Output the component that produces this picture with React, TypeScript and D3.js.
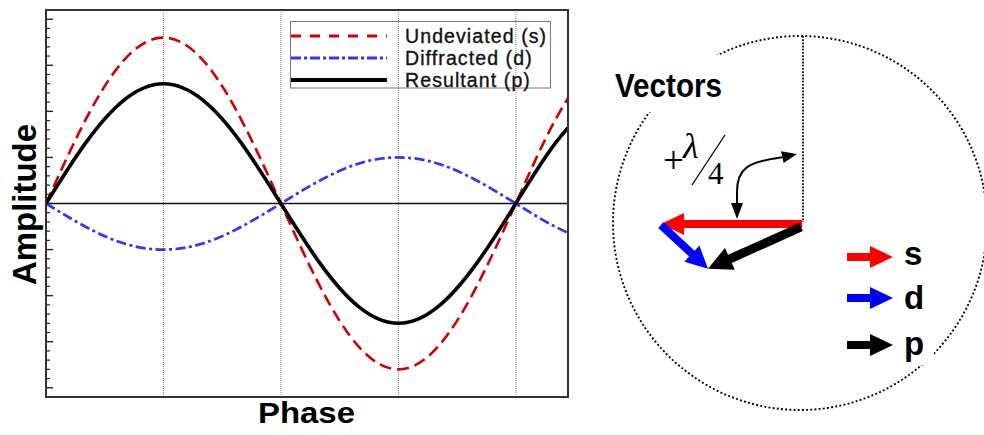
import React from 'react';
import * as d3 from 'd3';

// Sampled waveforms (phase in degrees, amplitude in axis units)
const phaseDeg = [0, 30, 60, 90, 120, 150, 180, 210, 240, 270, 300, 330, 360, 390, 420];
const undeviated = [0, 1.8, 3.12, 3.6, 3.12, 1.8, 0, -1.8, -3.12, -3.6, -3.12, -1.8, 0, 1.8, 3.12];
const diffracted = [0, -0.5, -0.87, -1, -0.87, -0.5, 0, 0.5, 0.87, 1, 0.87, 0.5, 0, -0.5, -0.87];
const resultant = [0, 1.3, 2.25, 2.6, 2.25, 1.3, 0, -1.3, -2.25, -2.6, -2.25, -1.3, 0, 1.3, 2.25];

const gridPhases = [90, 180, 270, 360];
const legendLabels = ['Undeviated (s)', 'Diffracted (d)', 'Resultant (p)'];

// Phasor components (x right, y up) for s, d and the resultant p
const vectorNames = ['s', 'd', 'p'];
const vectorX = [-3, 1, -2];
const vectorY = [0, -0.95, -0.95];

const SANS = '"Liberation Sans", Arial, Helvetica, sans-serif';
const SERIF = '"Liberation Serif", "Times New Roman", serif';

const RED = '#d00000';
const BLUE = '#3333ff';

const plot = { left: 46, right: 568, top: 10, bottom: 397 };

function arrowPoints(x1: number, y1: number, x2: number, y2: number, w: number, hl: number, hw: number) {
  const dx = x2 - x1, dy = y2 - y1;
  const len = Math.hypot(dx, dy);
  const ux = dx / len, uy = dy / len;
  const nx = -uy, ny = ux;
  const bx = x2 - ux * hl, by = y2 - uy * hl;
  const pts = [
    [x1 + nx * w / 2, y1 + ny * w / 2],
    [bx + nx * w / 2, by + ny * w / 2],
    [bx + nx * hw, by + ny * hw],
    [x2, y2],
    [bx - nx * hw, by - ny * hw],
    [bx - nx * w / 2, by - ny * w / 2],
    [x1 - nx * w / 2, y1 - ny * w / 2],
  ];
  return pts.map(p => p.join(',')).join(' ');
}

export default function App() {
  const x = d3.scaleLinear().domain([0, 400]).range([plot.left, plot.right]);
  const y = d3.scaleLinear().domain([-4.2, 4.2]).range([plot.bottom, plot.top]);

  const makeLine = (vals: number[]) =>
    d3.line<number>()
      .x((_, i) => x(phaseDeg[i]))
      .y(d => y(d))
      .curve(d3.curveNatural)(vals) as string;

  const majorTicks = d3.range(-4, 4.001, 1);
  const minorTicks = d3.range(-4.2, 4.201, 0.2).filter(v => Math.abs(v - Math.round(v)) > 0.01 && Math.abs(Math.abs(v) - 4.2) > 0.01);

  // vector diagram scale
  const origin = { x: 802, y: 224 };
  const vs = d3.scaleLinear().domain([0, 1]).range([0, 47]);
  const sTip = { x: origin.x + vs(vectorX[0]), y: origin.y - vs(vectorY[0]) };
  const dTip = { x: sTip.x + vs(vectorX[1]), y: sTip.y - vs(vectorY[1]) };
  const pTip = { x: origin.x + vs(vectorX[2]), y: origin.y - vs(vectorY[2]) };
  const vecColors = ['#ff0000', '#0000ff', '#000000'];

  const legendStyles = [
    { stroke: RED, dash: '10 9', width: 3 },
    { stroke: BLUE, dash: '10 3 3 3', width: 3 },
    { stroke: '#000', dash: undefined, width: 4 },
  ];

  // curved arrow head at upper right
  const hTip = { x: 797, y: 154 };
  const hDir = { x: 0.978, y: -0.21 };
  const hBase = { x: hTip.x - hDir.x * 15, y: hTip.y - hDir.y * 15 };
  const hPerp = { x: -hDir.y, y: hDir.x };

  return (
    <svg width={984} height={435} style={{ position: 'absolute', left: 0, top: 0, background: '#fff' }}>
      <defs>
        <clipPath id="plotClip">
          <rect x={plot.left} y={plot.top} width={plot.right - plot.left} height={plot.bottom - plot.top} />
        </clipPath>
      </defs>
      <rect x={0} y={0} width={984} height={435} fill="#fff" />

      {/* vertical grid */}
      {gridPhases.map(p => (
        <line key={p} x1={x(p)} x2={x(p)} y1={plot.top} y2={plot.bottom}
          stroke="#8a8a8a" strokeWidth={1} strokeDasharray="1 1" />
      ))}
      {/* zero line */}
      <line x1={plot.left} x2={plot.right} y1={y(0)} y2={y(0)} stroke="#111" strokeWidth={1.5} />

      {/* y ticks */}
      {majorTicks.map(t => (
        <line key={'M' + t} x1={plot.left} x2={plot.left + 7} y1={y(t)} y2={y(t)} stroke="#222" strokeWidth={1.4} />
      ))}
      {minorTicks.map(t => (
        <line key={'m' + t.toFixed(1)} x1={plot.left} x2={plot.left + 4} y1={y(t)} y2={y(t)} stroke="#222" strokeWidth={1.2} />
      ))}

      {/* waveforms */}
      <g clipPath="url(#plotClip)" fill="none">
        <path d={makeLine(undeviated)} stroke={RED} strokeWidth={2.6} strokeDasharray="12 6" />
        <path d={makeLine(diffracted)} stroke={BLUE} strokeWidth={2.7} strokeDasharray="10 3.5 3 3.5" />
        <path d={makeLine(resultant)} stroke="#000" strokeWidth={3.6} />
      </g>

      {/* frame */}
      <rect x={plot.left} y={plot.top} width={plot.right - plot.left} height={plot.bottom - plot.top}
        fill="none" stroke="#333" strokeWidth={2} />

      {/* legend */}
      <rect x={290.5} y={21.5} width={260} height={66.5} fill="none" stroke="#777" strokeWidth={1} />
      {legendLabels.map((lab, i) => {
        const ly = 36 + i * 22;
        const st = legendStyles[i];
        return (
          <g key={lab}>
            <line x1={291} x2={387} y1={ly} y2={ly} stroke={st.stroke} strokeWidth={st.width} strokeDasharray={st.dash} />
            <text x={405} y={ly + 7.3} fontFamily={SANS} fontSize={19.5} letterSpacing={1.1} fill="#111"
              stroke="#111" strokeWidth={0.35}>{lab}</text>
          </g>
        );
      })}

      {/* axis titles */}
      <text transform={`translate(36,${204.5}) rotate(-90)`} textAnchor="middle" fontFamily={SANS}
        fontWeight="bold" fontSize={34} textLength={161} lengthAdjust="spacingAndGlyphs">Amplitude</text>
      <text x={306.5} y={423.3} textAnchor="middle" fontFamily={SANS} fontWeight="bold" fontSize={29}
        textLength={97} lengthAdjust="spacingAndGlyphs">Phase</text>

      {/* vector diagram */}
      <circle cx={800} cy={223} r={187} fill="none" stroke="#000" strokeWidth={1.9} strokeDasharray="1.9 2.3" />
      <rect x={612} y={55} width={113} height={57} fill="#fff" />
      <rect x={897} y={328} width={37} height={37} fill="#fff" />
      <line x1={803} x2={803} y1={36} y2={222} stroke="#222" strokeWidth={2} strokeDasharray="1.8 1.4" />

      <text x={615} y={97} fontFamily={SANS} fontWeight="bold" fontSize={33} textLength={107}
        lengthAdjust="spacingAndGlyphs">Vectors</text>

      {/* +λ/4 label */}
      <text x={663} y={173} fontFamily={SERIF} fontSize={37}>+</text>
      <text x={683} y={158} fontFamily={SERIF} fontStyle="italic" fontSize={36}>λ</text>
      <line x1={725} y1={135} x2={692} y2={185} stroke="#000" strokeWidth={1.3} />
      <text x={708} y={183.5} fontFamily={SERIF} fontSize={31}>4</text>

      {/* curved double-headed arrow */}
      <path d={`M737,205 L737,192 C737,168 748,162 ${hBase.x},${hBase.y}`} fill="none" stroke="#000" strokeWidth={2} />
      <polygon points={`737,219 731,203 743,203`} fill="#000" />
      <polygon points={`${hTip.x},${hTip.y} ${hBase.x + hPerp.x * 6},${hBase.y + hPerp.y * 6} ${hBase.x - hPerp.x * 6},${hBase.y - hPerp.y * 6}`} fill="#000" />

      {/* phasors */}
      <polygon points={arrowPoints(origin.x, origin.y, sTip.x, sTip.y, 8, 23, 11)} fill={vecColors[0]} />
      <polygon points={arrowPoints(sTip.x, sTip.y + 1, dTip.x, dTip.y, 8, 22, 11)} fill={vecColors[1]} />
      <polygon points={arrowPoints(origin.x - 1, origin.y + 3, pTip.x, pTip.y, 9, 24, 12)} fill={vecColors[2]} />

      {/* phasor legend */}
      {vectorNames.map((n, i) => {
        const ly = [257, 298, 345][i];
        return (
          <g key={n}>
            <polygon points={arrowPoints(847, ly, 893, ly, 8, 23, 11)} fill={vecColors[i]} />
            <text x={904} y={[265, 309, 355][i]} fontFamily={SANS} fontWeight="bold" fontSize={33}>{n}</text>
          </g>
        );
      })}
    </svg>
  );
}
